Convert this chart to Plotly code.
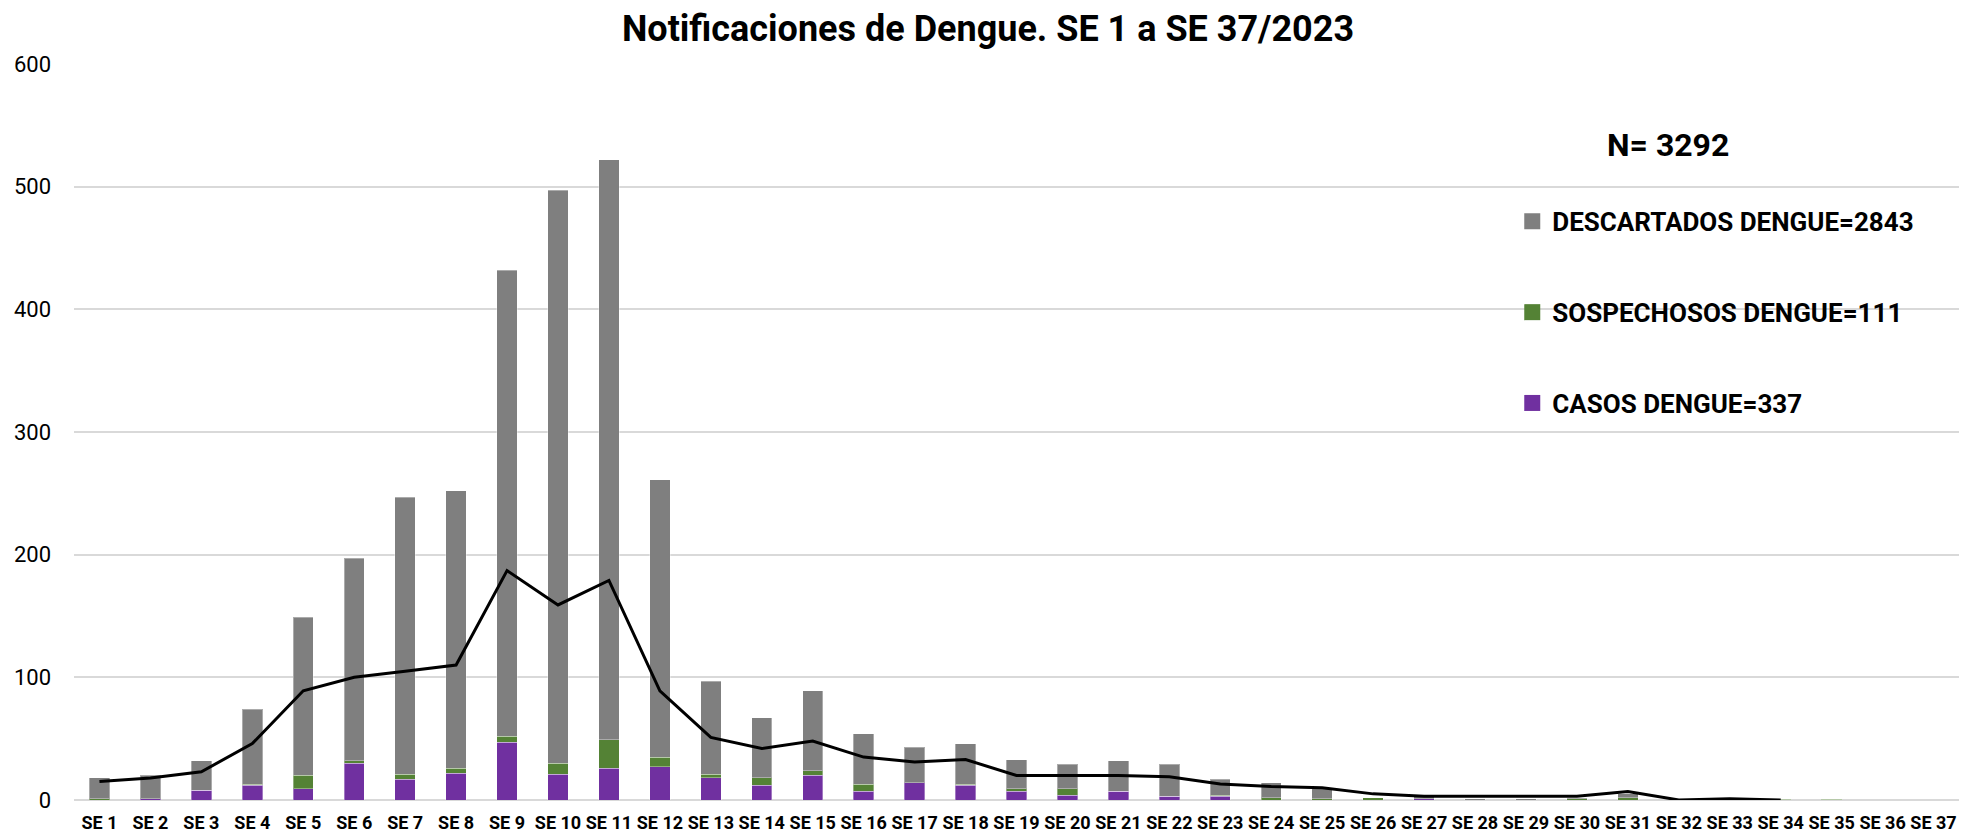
import plotly.graph_objects as go

semanas = ['SE ' + str(i) for i in range(1, 38)]

casos = [0, 1, 8, 12, 9, 30, 17, 22, 47, 21, 26, 27, 18, 12, 20, 7, 14, 12, 7, 4,
         7, 3, 3, 0, 0, 0, 1, 0, 0, 0, 0, 0, 0, 0, 0, 0, 0]
sospechosos = [1, 0, 0, 1, 11, 2, 4, 4, 5, 9, 23, 8, 3, 6, 4, 6, 0, 1, 2, 5,
               0, 0, 1, 2, 1, 2, 0, 0, 0, 1, 2, 0, 0, 0.5, 0.5, 0, 0]
descartados = [17, 19, 24, 61, 129, 165, 226, 226, 380, 467, 473, 226, 76, 49, 65, 41, 29, 33, 24, 20,
               25, 26, 13, 12, 9, 0, 2, 1, 1, 1, 3, 0, 0, 0, 0, 0, 0]
linea = [15, 18, 23, 46, 89, 100, 105, 110, 187, 159, 179, 89, 51, 42, 48, 35, 31, 33, 20, 20,
         20, 19, 13, 11, 10, 5, 3, 3, 3, 3, 7, 0, 1, 0, None, None, None]

series = [
    ('CASOS DENGUE=337', casos, '#7030a0'),
    ('SOSPECHOSOS DENGUE=111', sospechosos, '#548235'),
    ('DESCARTADOS DENGUE=2843', descartados, '#7f7f7f'),
]

fnt = 'Roboto, sans-serif'

fig = go.Figure()
# stacked bars, bottom to top
for name, vals, col in series:
    fig.add_trace(go.Bar(x=semanas, y=vals, name=name, showlegend=False,
                         marker=dict(color=col, line=dict(color='rgba(255,255,255,0.35)', width=1))))

fig.add_trace(go.Scatter(x=semanas, y=linea, mode='lines', showlegend=False,
                         line=dict(color='black', width=3)))

# legend entries (bigger square swatches, top to bottom)
for name, vals, col in reversed(series):
    fig.add_trace(go.Scatter(x=[None], y=[None], mode='markers', name=name, legendgroup=name,
                             marker=dict(symbol='square', size=16, color=col)))

# page body has an 8px margin, so the figure is 8px smaller than the window
fig.update_layout(
    width=1974, height=830,
    barmode='stack', bargap=0.6,
    paper_bgcolor='white', plot_bgcolor='white',
    margin=dict(l=66, r=23, t=56, b=38),
    font=dict(family=fnt, color='black'),
    title=dict(text='<b>Notificaciones de Dengue. SE 1 a SE 37/2023</b>', x=980 / 1974, xanchor='center',
               y=1 - 20 / 830, yanchor='middle', font=dict(size=36, family=fnt)),
    legend=dict(x=0.763, y=0.818, xanchor='left', yanchor='top', traceorder='grouped',
                tracegroupgap=54, itemsizing='trace',
                font=dict(size=26, family=fnt, weight='bold'), bgcolor='rgba(0,0,0,0)'),
    showlegend=True,
)
fig.update_xaxes(tickangle=0, tickfont=dict(size=18, family=fnt, weight='bold'), showgrid=False,
                 ticks='', showline=False, automargin=False, ticklabelstandoff=10)
fig.update_yaxes(range=[0, 600], dtick=100, showgrid=True, gridcolor='#d9d9d9', gridwidth=2,
                 zeroline=True, zerolinecolor='#d9d9d9', zerolinewidth=2, automargin=False,
                 tickfont=dict(size=22, family=fnt), ticklabelstandoff=22)

fig.add_annotation(text='<b>N= 3292</b>', xref='paper', yref='paper', x=(1668 - 74) / 1885, y=0.89,
                   xanchor='center', yanchor='middle', showarrow=False, font=dict(size=32, family=fnt))

fig.write_html('out.html')
